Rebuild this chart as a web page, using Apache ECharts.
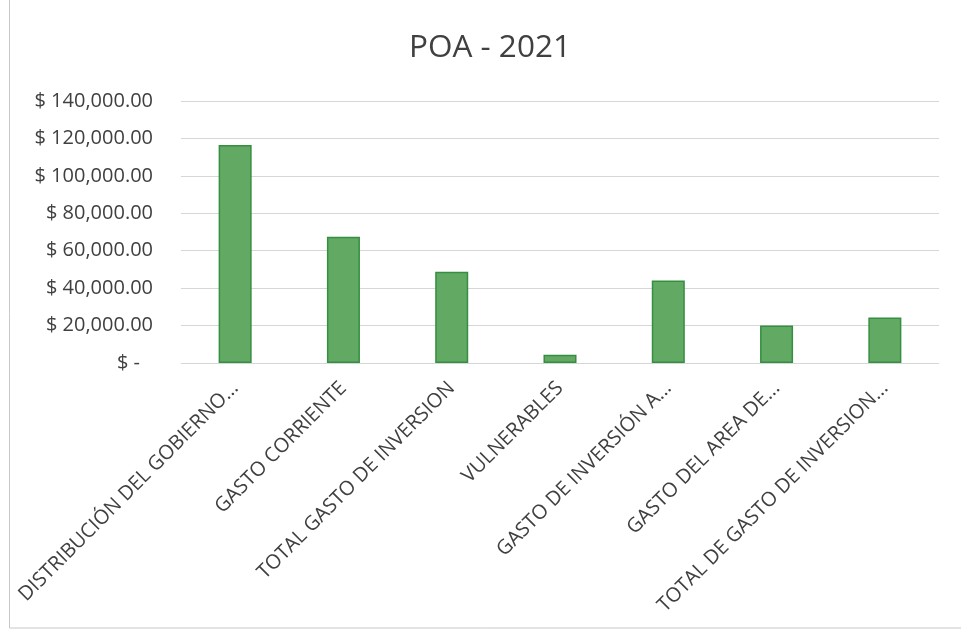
<!DOCTYPE html>
<html>
<head>
<meta charset="utf-8">
<script src="https://cdn.jsdelivr.net/npm/echarts@6/dist/echarts.min.js"></script>
<style>html,body{margin:0;padding:0;background:#fff;}#c{width:961px;height:630px;}</style>
</head>
<body>
<div id="c"></div>
<script>
const titleText = 'POA - 2021';
const categories = [
  'DISTRIBUCIÓN DEL GOBIERNO...',
  'GASTO CORRIENTE',
  'TOTAL GASTO DE INVERSION',
  'VULNERABLES',
  'GASTO DE INVERSIÓN A...',
  'GASTO DEL AREA DE...',
  'TOTAL DE GASTO DE INVERSION...'
];
const values = [116500, 67500, 48800, 4400, 44100, 20100, 24300];
const yMin = 0, yMax = 140000, yStep = 20000;

function fmtMoney(v) {
  const s = Math.round(v).toString().replace(/\B(?=(\d{3})+(?!\d))/g, ',');
  return s + '.00';
}

const chart = echarts.init(document.getElementById('c'), null, {renderer: 'canvas'});
const FONT = '"Open Sans", "Liberation Sans", sans-serif';
chart.setOption({
  backgroundColor: '#ffffff',
  animation: false,
  title: {
    text: titleText,
    left: 404,
    top: 27,
    textStyle: {fontFamily: FONT, fontSize: 31.5, fontWeight: 'normal', color: '#404040'}
  },
  grid: {left: 181, right: 22, top: 101, bottom: 267, outerBoundsMode: 'none', containLabel: false},
  xAxis: {
    type: 'category',
    data: categories,
    axisLine: {show: false},
    axisTick: {show: false},
    axisLabel: {
      interval: 0, rotate: 45, margin: 22,
      fontFamily: FONT, fontSize: 20, color: '#404040'
    },
    splitLine: {show: false}
  },
  yAxis: {
    type: 'value',
    min: yMin, max: yMax, interval: yStep,
    axisLine: {show: false},
    axisTick: {show: false},
    splitLine: {show: true, lineStyle: {color: '#d6d6d6', width: 1}},
    axisLabel: {
      margin: 28,
      fontFamily: FONT, fontSize: 20, color: '#404040',
      formatter: function (v) {
        if (v === 0) return '{z|$ -}';
        return '$ ' + fmtMoney(v);
      },
      rich: {
        z: {fontFamily: FONT, fontSize: 20, color: '#404040', padding: [0, 13, 0, 0]}
      }
    }
  },
  series: [{
    type: 'bar',
    data: values,
    barWidth: '30.5%',
    itemStyle: {color: '#62a964', borderColor: '#348f40', borderWidth: 1.5}
  }],
  graphic: [{
    type: 'rect',
    silent: true,
    shape: {x: 9.5, y: -5, width: 960, height: 633},
    style: {fill: 'none', stroke: '#c8c8c8', lineWidth: 1}
  }]
});
</script>
</body>
</html>
